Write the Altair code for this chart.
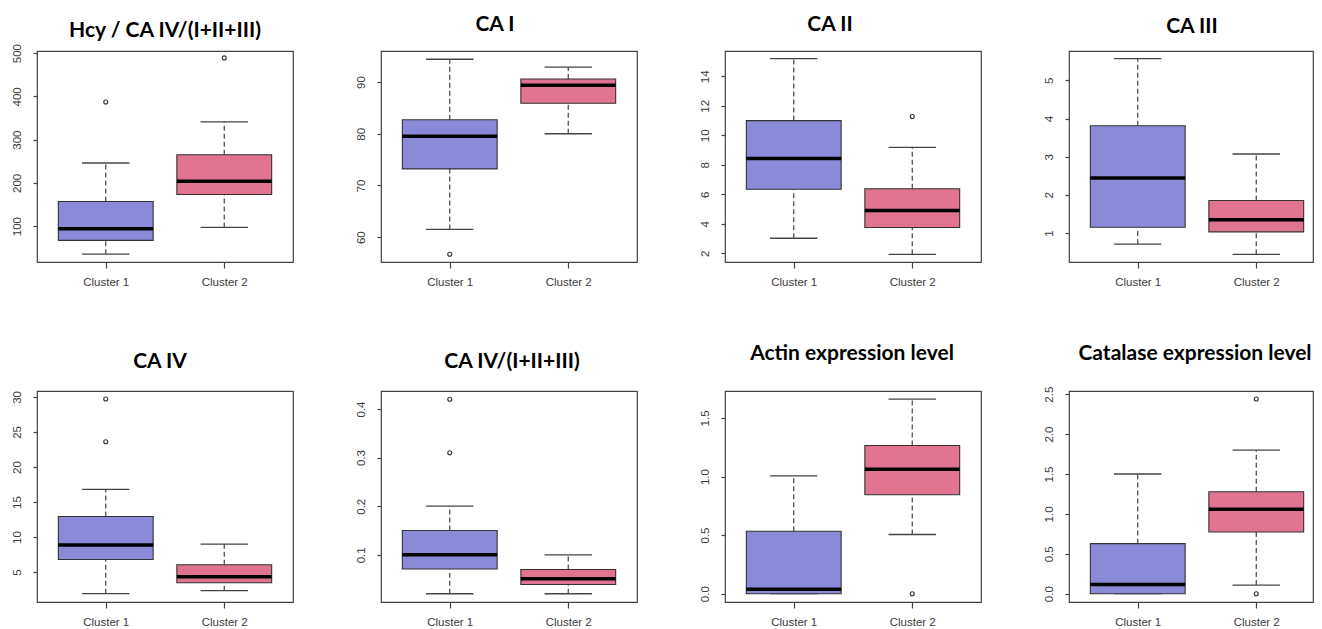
import altair as alt
import pandas as pd

titles = ["Hcy / CA IV/(I+II+III)", "CA I", "CA II", "CA III",
          "CA IV", "CA IV/(I+II+III)", "Actin expression level", "Catalase expression level"]
clusters = ["Cluster 1", "Cluster 2"]

# per panel: [cluster 1, cluster 2]
whisker_low = [[35, 97], [61.5, 80.0], [3.02, 1.93], [0.71, 0.44],
               [1.92, 2.34], [0.02, 0.02], [0.0, 0.505], [0.0, 0.108]]
quart1 = [[67, 173], [73.2, 85.9], [6.34, 3.75], [1.15, 1.03],
          [6.8, 3.48], [0.071, 0.039], [0.0, 0.845], [0.0, 0.774]]
medians = [[94, 204], [79.5, 89.4], [8.43, 4.9], [2.44, 1.35],
           [8.86, 4.34], [0.10, 0.051], [0.037, 1.062], [0.116, 1.057]]
quart3 = [[157, 265], [82.7, 90.6], [11.0, 6.38], [3.81, 1.85],
          [12.94, 6.04], [0.15, 0.07], [0.533, 1.265], [0.628, 1.277]]
whisker_high = [[246, 341], [94.4, 92.9], [15.2, 9.19], [5.57, 3.07],
                [16.8, 9.0], [0.2, 0.1], [1.005, 1.66], [1.5, 1.80]]
outliers = [[[387], [489]], [[56.7], []], [[], [11.28]], [[], []],
            [[23.6, 29.7], []], [[0.31, 0.42], []], [[], [0.0]], [[], [0.0, 2.44]]]

y_domains = [[17, 505], [55.2, 96], [1.41, 15.72], [0.24, 5.77],
             [0.73, 30.85], [0.003, 0.437], [-0.071, 1.73], [-0.104, 2.54]]
y_ticks = [[100, 200, 300, 400, 500], [60, 70, 80, 90], [2, 4, 6, 8, 10, 12, 14], [1, 2, 3, 4, 5],
           [5, 10, 15, 20, 25, 30], [0.1, 0.2, 0.3, 0.4], [0.0, 0.5, 1.0, 1.5], [0.0, 0.5, 1.0, 1.5, 2.0, 2.5]]
y_formats = ["d", "d", "d", "d", "d", ".1f", ".1f", ".1f"]

# style / layout
box_colors = ["#8A8AD8", "#E0738F"]
title_dx = [0, -14, -23, 1, -5, 3, -1, 4]
title_dy = [14, 1, 1, 3, -2, -2, -10, -5]
panel_w = [256, 256, 256, 244, 256, 256, 256, 244]   # last column is cut by the page edge
PH = 211
X0, X_SPAN = 0.42, 2.16       # R-style x range for 2 boxes (0.5..2.5 plus 4%)
line_col = "#444444"
lab_col = "#3a3a3a"


def panel(i):
    df = pd.DataFrame({
        "cluster": clusters, "pos": [1, 2],
        "lo": whisker_low[i], "q1": quart1[i], "med": medians[i],
        "q3": quart3[i], "hi": whisker_high[i],
    })
    rows = [{"cluster": clusters[c], "pos": c + 1, "v": v}
            for c in range(2) for v in outliers[i][c]]
    out = pd.DataFrame(rows, columns=["cluster", "pos", "v"])

    w = panel_w[i]
    xscale = alt.Scale(domain=[X0, X0 + X_SPAN * w / 256], nice=False, zero=False)
    yscale = alt.Scale(domain=y_domains[i], nice=False, zero=False)
    xaxis = alt.Axis(values=[1, 2], tickCount=10,
                     labelExpr=f"datum.value == 1 ? '{clusters[0]}' : '{clusters[1]}'",
                     tickSize=6, labelPadding=8, domain=False, grid=False,
                     labelFont="Liberation Sans", labelFontSize=11.5, labelColor=lab_col,
                     tickColor=line_col, tickWidth=1.2, title=None)
    yaxis = alt.Axis(values=y_ticks[i], tickCount=20, format=y_formats[i], labelAngle=270,
                     labelAlign="center", labelBaseline="bottom",
                     tickSize=4, labelPadding=11, domain=False, grid=False,
                     labelFont="Liberation Sans", labelFontSize=11.5, labelColor=lab_col,
                     tickColor=line_col, tickWidth=1.2, title=None, labelOverlap=False)

    base = alt.Chart(df).transform_calculate(
        xl="datum.pos - 0.4", xr="datum.pos + 0.4",
        cl="datum.pos - 0.2", cr="datum.pos + 0.2")

    X = alt.X("pos:Q", scale=xscale, axis=xaxis)
    whisk_up = base.mark_rule(strokeDash=[5, 3], color=line_col, strokeWidth=1.2).encode(
        x=X, y=alt.Y("q3:Q", scale=yscale, axis=yaxis), y2="hi:Q")
    whisk_dn = base.mark_rule(strokeDash=[5, 3], color=line_col, strokeWidth=1.2).encode(
        x="pos:Q", y="lo:Q", y2="q1:Q")
    cap_hi = base.mark_rule(color=line_col, strokeWidth=1.3).encode(x="cl:Q", x2="cr:Q", y="hi:Q")
    cap_lo = base.mark_rule(color=line_col, strokeWidth=1.3).encode(x="cl:Q", x2="cr:Q", y="lo:Q")
    box = base.mark_rect(stroke="#333333", strokeWidth=1.1).encode(
        x="xl:Q", x2="xr:Q", y="q1:Q", y2="q3:Q",
        color=alt.Color("cluster:N", scale=alt.Scale(domain=clusters, range=box_colors), legend=None))
    med = base.mark_rule(color="black", strokeWidth=3.5).encode(x="xl:Q", x2="xr:Q", y="med:Q")
    pts = alt.Chart(out).mark_point(shape="circle", filled=False, size=16, color="#333333",
                                    strokeWidth=1.1, opacity=1).encode(x="pos:Q", y="v:Q")

    return alt.layer(whisk_up, whisk_dn, cap_hi, cap_lo, box, med, pts).properties(
        width=w, height=PH,
        title=alt.TitleParams(titles[i], font="Lato", fontWeight="bold", fontSize=21,
                              color="black", anchor="middle", frame="group",
                              baseline="alphabetic", offset=0,
                              dx=title_dx[i], dy=title_dy[i]))


panels = [panel(i) for i in range(8)]
chart = alt.concat(*panels, columns=4, spacing=alt.RowColnumber(row=129, column=88),
                   bounds="flush").resolve_scale(
    x="independent", y="independent", color="independent").properties(
    padding={"left": 2, "top": 5, "right": 0, "bottom": 0}, background="white"
).configure_view(stroke=line_col, strokeWidth=1.2)

chart.save("out.html", embed_options={"renderer": "svg", "actions": False})
